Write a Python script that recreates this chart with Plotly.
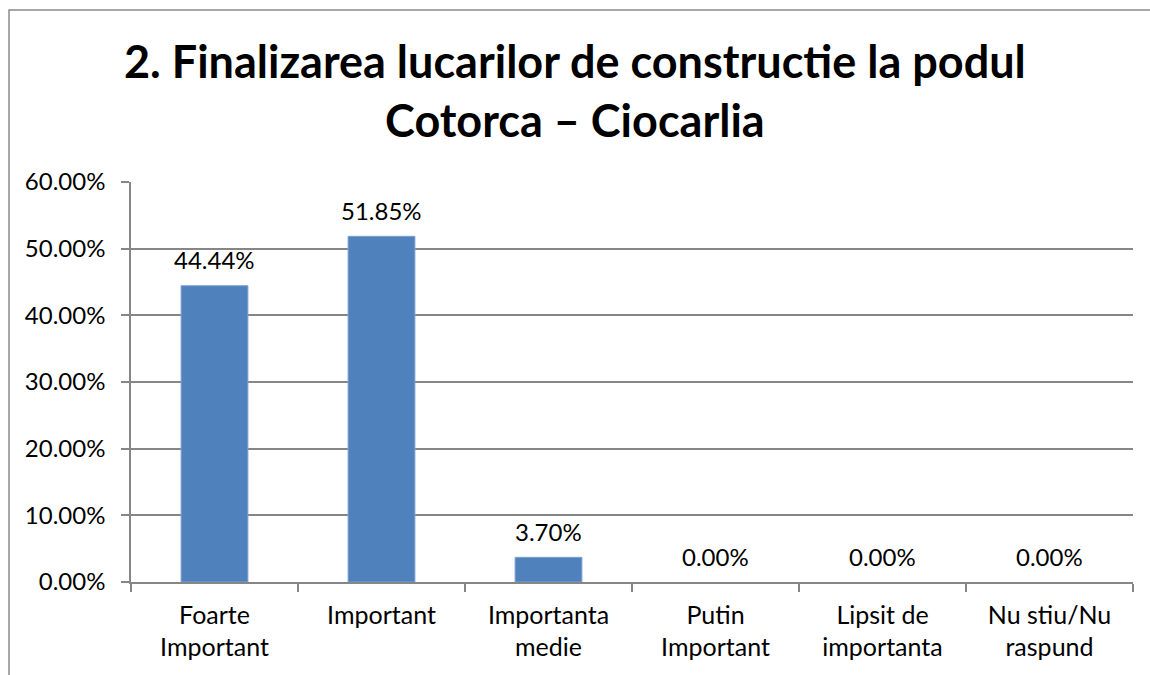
import plotly.graph_objects as go

categories = ["Foarte<br>Important", "Important", "Importanta<br>medie", "Putin<br>Important", "Lipsit de<br>importanta", "Nu stiu/Nu<br>raspund"]
values = [0.4444, 0.5185, 0.0370, 0.0, 0.0, 0.0]
y_ticks = [0, 0.1, 0.2, 0.3, 0.4, 0.5, 0.6]
title_text = "2. Finalizarea lucarilor de constructie la podul<br>Cotorca – Ciocarlia"

FONT = "Lato, Carlito, Calibri, sans-serif"
GRID = "#868686"
FS = 24

fig = go.Figure(go.Bar(
    x=categories, y=values,
    marker=dict(color="#4F81BD",
                line=dict(color="#7EA1CF", width=[1 if v > 0 else 0 for v in values])),
    hoverinfo="x+y",
))

# data labels above the bars
for c, v in zip(categories, values):
    fig.add_annotation(x=c, y=v, text=f"{v:.2%}", showarrow=False,
                       xanchor="center", yanchor="middle", yshift=26,
                       font=dict(family=FONT, size=FS, color="black"))

fig.add_annotation(text=title_text, xref="paper", yref="paper",
                   x=(575 - 131) / 1002, y=(582 - 90) / 400,
                   xanchor="center", yanchor="middle", showarrow=False,
                   font=dict(family=FONT, size=45, color="black", weight="bold"))

fig.update_layout(
    width=1150, height=675,
    paper_bgcolor="white", plot_bgcolor="white",
    margin=dict(l=131, r=17, t=182, b=93, autoexpand=False),
    bargap=0.6,
    showlegend=False,
    font=dict(family=FONT, size=FS, color="black"),
    xaxis=dict(showline=True, linecolor=GRID, linewidth=1.5, ticks="outside",
               tickson="boundaries", ticklen=8, tickcolor=GRID, tickwidth=1.5,
               showgrid=False, automargin=False, ticklabelstandoff=10,
               tickfont=dict(family=FONT, size=25, color="black")),
    yaxis=dict(range=[0, 0.6], tickvals=y_ticks, tickformat=".2%",
               showline=True, linecolor=GRID, linewidth=1.5, ticks="outside",
               ticklen=8, tickcolor=GRID, tickwidth=1.5, automargin=False,
               ticklabelstandoff=11,
               showgrid=True, gridcolor=GRID, gridwidth=1.5, zeroline=False,
               tickfont=dict(family=FONT, size=FS, color="black")),
    shapes=[dict(type="rect", xref="paper", yref="paper",
                 x0=(9 - 131) / 1002, x1=1.3, y0=-0.5, y1=(582 - 10) / 400,
                 line=dict(color="#8A8A8A", width=1.5), layer="below")],
)

fig.write_html("out.html", config={"displayModeBar": False},
               post_script="document.body.style.margin='0';document.body.style.overflow='hidden';")
